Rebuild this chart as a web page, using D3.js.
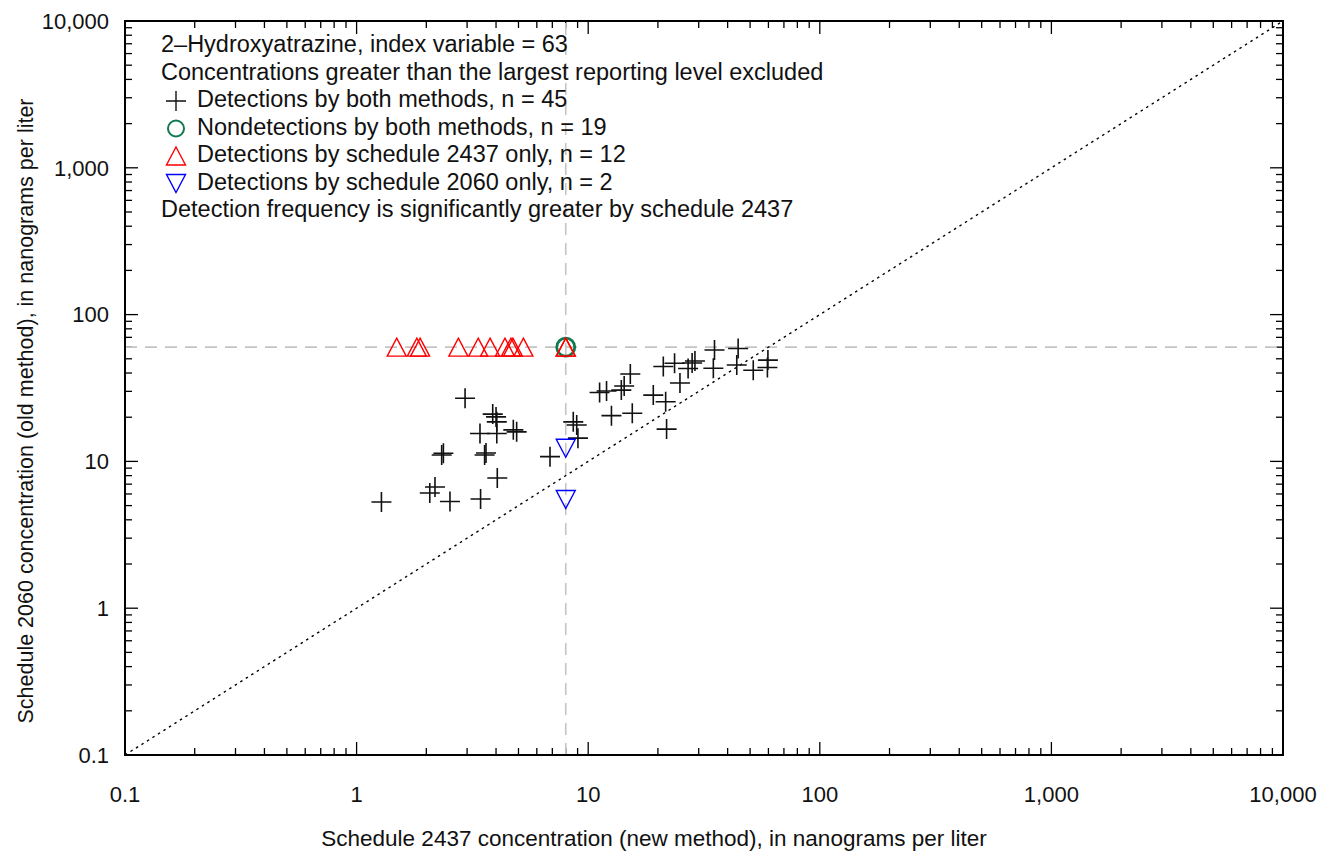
<!DOCTYPE html>
<html>
<head>
<meta charset="utf-8">
<script src="https://cdn.jsdelivr.net/npm/d3@7"></script>
<style>
  body { margin: 0; background: #fff; }
  text { font-family: "Liberation Sans Narrow", "Arial Narrow", "Liberation Sans", sans-serif; fill: #111; }
</style>
</head>
<body>
<div id="chart"></div>
<script>
// detections by both methods (new method x, old method y)
const bothX = [1.28, 2.07, 2.18, 2.53, 2.33, 2.37, 2.94, 3.41, 3.43, 3.57, 3.62, 3.87, 4.00, 4.03, 4.03,
    4.05, 4.75, 4.91, 6.84, 8.62, 8.92, 9.03, 11.2, 12.0, 12.6, 13.9, 14.3, 15.2, 15.5, 19.1,
    21.6, 21.8, 21.1, 23.6, 24.9, 27.0, 28.1, 28.9, 34.7, 35.1, 44.4, 43.8, 51.6, 59.7, 59.4];
const bothY = [5.29, 6.09, 6.69, 5.33, 11.06, 11.36, 26.9, 15.5, 5.54, 11.06, 11.41, 21.0, 20.1, 18.6, 15.5,
    7.71, 16.4, 15.9, 10.77, 18.6, 17.7, 14.4, 29.5, 30.2, 20.5, 30.6, 32.6, 39.4, 21.3, 28.3,
    25.5, 16.6, 44.3, 46.6, 34.2, 42.9, 46.8, 48.3, 43.1, 57.4, 58.7, 45.4, 41.8, 49.0, 43.6];
// detections by schedule 2437 only
const newOnlyX = [1.49, 1.82, 1.88, 2.75, 3.35, 3.77, 4.37, 4.64, 4.73, 5.25, 8, 8];
const newOnlyY = [60, 60, 60, 60, 60, 60, 60, 60, 60, 60, 60, 60];
// detections by schedule 2060 only
const oldOnlyX = [8, 8];
const oldOnlyY = [12.3, 5.5];
// nondetections by both (all plotted at the reporting levels)
const nonX = [8];
const nonY = [60];
const reportX = 8, reportY = 60;

const tickVals = [0.1, 1, 10, 100, 1000, 10000];
const tickLabels = ["0.1", "1", "10", "100", "1,000", "10,000"];

const legendLines = [
    { sym: null, text: "2\u2013Hydroxyatrazine, index variable = 63" },
    { sym: null, text: "Concentrations greater than the largest reporting level excluded" },
    { sym: "plus", text: "Detections by both methods, n = 45" },
    { sym: "circle", text: "Nondetections by both methods,  n = 19" },
    { sym: "up", text: "Detections by schedule 2437 only, n = 12" },
    { sym: "down", text: "Detections by schedule 2060 only,  n = 2" },
    { sym: null, text: "Detection frequency is significantly greater by schedule 2437" }
];

const width = 1329, height = 856;
const margin = { top: 21, right: 46, bottom: 101, left: 125 };

const svg = d3.select('#chart').append('svg')
    .attr('width', width)
    .attr('height', height);

svg.append('rect').attr('width', width).attr('height', height).attr('fill', '#fff');

const x = d3.scaleLog().domain([0.1, 10000]).range([margin.left, width - margin.right]);
const y = d3.scaleLog().domain([0.1, 10000]).range([height - margin.bottom, margin.top]);

const x0 = x.range()[0], x1 = x.range()[1];
const y0 = y.range()[0], y1 = y.range()[1];

const paths = {
    plus: "M-10,0H10M0,-10V10",
    up: "M0,-9L9.5,9L-9.5,9Z",
    down: "M0,9L9.5,-9L-9.5,-9Z"
};

// minor ticks
const minor = [];
for (let e = -1; e < 4; e++) {
    for (let m = 2; m < 10; m++) minor.push(m * Math.pow(10, e));
}

const ticks = svg.append('g').attr('stroke', '#000').attr('stroke-width', 1.3);
function addTicks(vals, len) {
    vals.forEach(v => {
        ticks.append('line').attr('x1', x(v)).attr('x2', x(v)).attr('y1', y0).attr('y2', y0 - len);
        ticks.append('line').attr('x1', x(v)).attr('x2', x(v)).attr('y1', y1).attr('y2', y1 + len);
        ticks.append('line').attr('y1', y(v)).attr('y2', y(v)).attr('x1', x0).attr('x2', x0 + len);
        ticks.append('line').attr('y1', y(v)).attr('y2', y(v)).attr('x1', x1).attr('x2', x1 - len);
    });
}
addTicks(minor, 7);
addTicks(tickVals.slice(1, -1), 13);

// reporting level lines
svg.append('line')
    .attr('x1', x0).attr('x2', x1).attr('y1', y(reportY)).attr('y2', y(reportY))
    .attr('stroke', '#c4c4c4').attr('stroke-width', 1.6).attr('stroke-dasharray', '12,8');
svg.append('line')
    .attr('x1', x(reportX)).attr('x2', x(reportX)).attr('y1', y0).attr('y2', y1)
    .attr('stroke', '#c4c4c4').attr('stroke-width', 1.6).attr('stroke-dasharray', '12,8');

// 1:1 line
svg.append('line')
    .attr('x1', x(0.1)).attr('y1', y(0.1)).attr('x2', x(10000)).attr('y2', y(10000))
    .attr('stroke', '#000').attr('stroke-width', 1.4).attr('stroke-dasharray', '2.5,4');

// frame
svg.append('rect')
    .attr('x', x0).attr('y', y1).attr('width', x1 - x0).attr('height', y0 - y1)
    .attr('fill', 'none').attr('stroke', '#000').attr('stroke-width', 2);

// tick labels
svg.selectAll('.xl').data(tickVals).join('text')
    .attr('x', d => x(d)).attr('y', y0 + 41)
    .attr('text-anchor', 'middle').attr('dominant-baseline', 'middle')
    .style('font-size', '22px')
    .text((d, i) => tickLabels[i]);
svg.selectAll('.yl').data(tickVals).join('text')
    .attr('x', x0 - 16).attr('y', d => y(d) + 2)
    .attr('text-anchor', 'end').attr('dominant-baseline', 'middle')
    .style('font-size', '22px')
    .text((d, i) => tickLabels[i]);

// axis titles
svg.append('text')
    .attr('x', 654).attr('y', 840)
    .attr('text-anchor', 'middle').attr('dominant-baseline', 'middle')
    .style('font-size', '22.5px')
    .text('Schedule 2437 concentration (new method), in nanograms per liter');
svg.append('text')
    .attr('transform', 'translate(27,411) rotate(-90)')
    .attr('text-anchor', 'middle').attr('dominant-baseline', 'middle')
    .style('font-size', '21.5px')
    .text('Schedule 2060 concentration (old method), in nanograms per liter');

// points
const pts = svg.append('g');
pts.selectAll('.both').data(bothX).join('path')
    .attr('transform', (d, i) => `translate(${x(d)},${y(bothY[i])})`)
    .attr('d', paths.plus)
    .attr('fill', 'none').attr('stroke', '#111').attr('stroke-width', 1.6);
pts.selectAll('.non').data(nonX).join('circle')
    .attr('cx', d => x(d)).attr('cy', (d, i) => y(nonY[i])).attr('r', 9)
    .attr('fill', 'none').attr('stroke', '#0f7a4e').attr('stroke-width', 2.8);
pts.selectAll('.newonly').data(newOnlyX).join('path')
    .attr('transform', (d, i) => `translate(${x(d)},${y(newOnlyY[i])})`)
    .attr('d', paths.up)
    .attr('fill', 'none').attr('stroke', '#f00').attr('stroke-width', 1.4);
pts.selectAll('.oldonly').data(oldOnlyX).join('path')
    .attr('transform', (d, i) => `translate(${x(d)},${y(oldOnlyY[i])})`)
    .attr('d', paths.down)
    .attr('fill', 'none').attr('stroke', '#00f').attr('stroke-width', 1.4);

// legend
const leg = svg.append('g');
legendLines.forEach((l, i) => {
    const cy = 46 + i * 27.5;
    const tx = l.sym ? 197 : 161;
    leg.append('text')
        .attr('x', tx).attr('y', cy)
        .attr('dominant-baseline', 'middle')
        .style('font-size', '23.5px')
        .text(l.text);
    if (l.sym === 'circle') {
        leg.append('circle').attr('cx', 176).attr('cy', cy).attr('r', 8)
            .attr('fill', 'none').attr('stroke', '#0f7a4e').attr('stroke-width', 2);
    } else if (l.sym) {
        const col = { plus: '#111', up: '#f00', down: '#00f' }[l.sym];
        leg.append('path')
            .attr('transform', `translate(176,${cy})`)
            .attr('d', l.sym === 'plus' ? "M-10,0H10M0,-10V10" : paths[l.sym])
            .attr('fill', 'none').attr('stroke', col).attr('stroke-width', 1.4);
    }
});
</script>
</body>
</html>
